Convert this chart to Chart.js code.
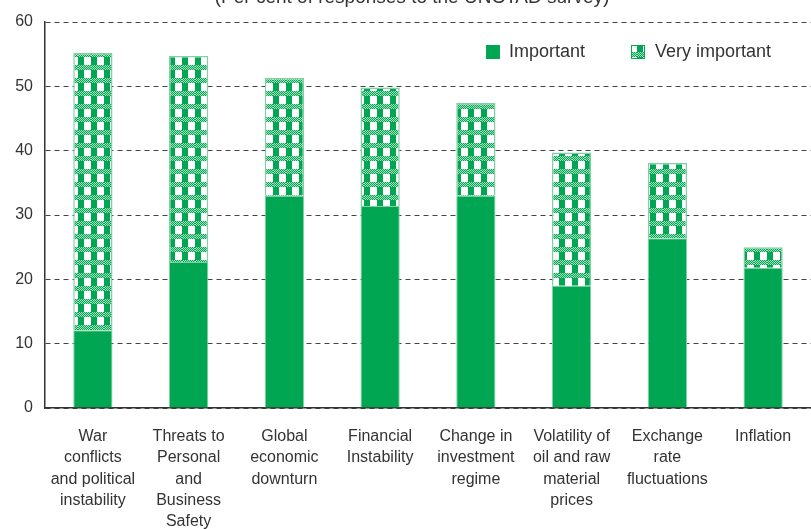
<!DOCTYPE html>
<html>
<head>
<meta charset="utf-8">
<script src="https://cdn.jsdelivr.net/npm/chart.js@4"></script>
<style>
html,body{margin:0;padding:0;background:#fff;}
#wrap{width:811px;height:529px;position:relative;}
</style>
</head>
<body>
<div id="wrap"><canvas id="c" width="811" height="529"></canvas></div>
<script>
const categories = [
  ["War","conflicts","and political","instability"],
  ["Threats to","Personal","and","Business","Safety"],
  ["Global","economic","downturn"],
  ["Financial","Instability"],
  ["Change in","investment","regime"],
  ["Volatility of","oil and raw","material","prices"],
  ["Exchange","rate","fluctuations"],
  ["Inflation"]
];
const important = [12.1, 22.7, 33.0, 31.4, 33.0, 19.0, 26.4, 21.8];
const veryImportant = [43.1, 32.0, 18.3, 18.4, 14.4, 20.7, 11.7, 3.2];
const seriesNames = ["Important", "Very important"];
const yTicks = [0, 10, 20, 30, 40, 50, 60];
const titleText = "(Per cent of responses to the UNCTAD survey)";

const GREEN = '#00a651';
const EDGE = '#7fd1a3';
const FONT = '"Liberation Sans", Arial, sans-serif';

function makePattern() {
  const p = document.createElement('canvas');
  p.width = 13; p.height = 13;
  const g = p.getContext('2d');
  g.fillStyle = '#fff'; g.fillRect(0,0,13,13);
  for (let y = 0; y < 5; y++) {
    for (let x = 0; x < 13; x++) {
      g.fillStyle = ((x + y) % 2 === 0) ? GREEN : '#a8e0bf';
      g.fillRect(x, y, 1, 1);
    }
  }
  g.fillStyle = GREEN;
  g.fillRect(0, 5, 6, 8);
  g.fillStyle = '#ffffff';
  g.fillRect(6, 5, 7, 8);
  return g;
}
const patCtx = makePattern();
const mainCtx = document.getElementById('c').getContext('2d');
const pattern = mainCtx.createPattern(patCtx.canvas, 'repeat');

const titlePlugin = {
  id: 'titleLegend',
  afterDraw(chart) {
    const ctx = chart.ctx;
    ctx.save();
    ctx.font = '19px ' + FONT;
    ctx.fillStyle = '#333';
    ctx.textAlign = 'center';
    ctx.textBaseline = 'alphabetic';
    ctx.fillText(titleText, 412, 3);
    ctx.font = '18px ' + FONT;
    ctx.textAlign = 'left';
    ctx.textBaseline = 'middle';
    ctx.fillStyle = GREEN;
    ctx.fillRect(486, 45, 14, 14);
    ctx.fillStyle = '#333';
    ctx.fillText(seriesNames[0], 509, 52);
    ctx.fillStyle = pattern;
    ctx.fillRect(631, 45, 14, 14);
    ctx.strokeStyle = GREEN;
    ctx.lineWidth = 1;
    ctx.strokeRect(631.5, 45.5, 13, 13);
    ctx.fillStyle = '#333';
    ctx.fillText(seriesNames[1], 655, 52);
    ctx.restore();
  }
};

new Chart(mainCtx, {
  type: 'bar',
  data: {
    labels: categories,
    datasets: [
      { label: seriesNames[0], data: important, backgroundColor: GREEN, borderColor: EDGE, borderWidth: 1, barPercentage: 0.41, categoryPercentage: 1 },
      { label: seriesNames[1], data: veryImportant, backgroundColor: pattern, borderColor: EDGE, borderWidth: 1.5, barPercentage: 0.41, categoryPercentage: 1 }
    ]
  },
  options: {
    responsive: false,
    animation: false,
    events: [],
    layout: { padding: { top: 22, right: 0, left: 0, bottom: 0 } },
    plugins: { legend: { display: false }, tooltip: { enabled: false }, title: { display: false } },
    scales: {
      x: {
        stacked: true,
        grid: { display: false, drawTicks: false },
        border: { display: true, color: '#333', width: 1.5 },
        ticks: { color: '#333', font: { family: FONT, size: 16, lineHeight: 1.33 }, padding: 18, maxRotation: 0, autoSkip: false },
        afterFit(s) { s.height = 121; }
      },
      y: {
        stacked: true,
        min: 0, max: 60,
        afterBuildTicks(s) { s.ticks = yTicks.map(v => ({ value: v })); },
        grid: { color: '#444', lineWidth: 1, drawTicks: false, tickLength: 0 },
        border: { display: true, color: '#333', width: 1.5, dash: [5, 4] },
        ticks: { color: '#333', font: { family: FONT, size: 16 }, padding: 12 },
        afterFit(s) { s.width = 45; }
      }
    }
  },
  plugins: [titlePlugin]
});
</script>
</body>
</html>
